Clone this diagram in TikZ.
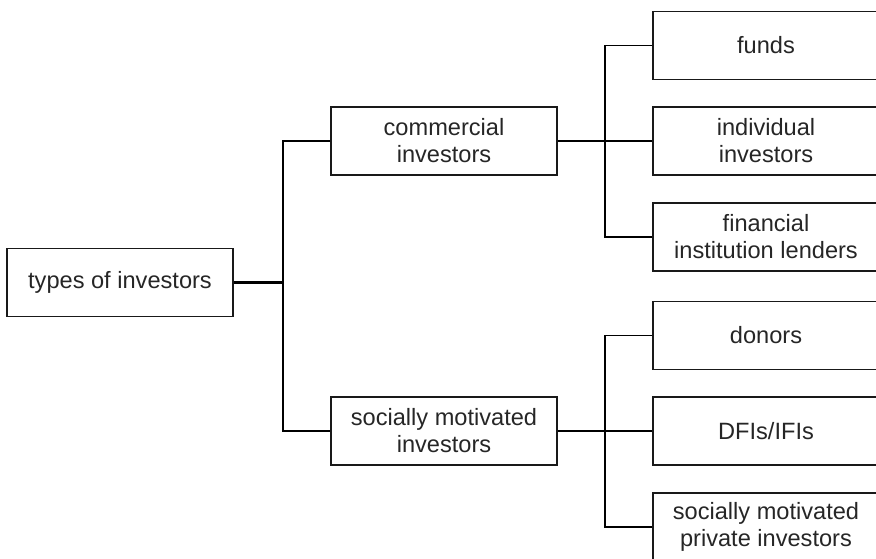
\documentclass[tikz,border=0pt]{standalone}
\usepackage{fontspec}
\setmainfont{Liberation Sans}
\begin{document}
\begin{tikzpicture}[x=0.75pt,y=-0.75pt,
  box/.style={draw=black!90, line width=1.1pt, rectangle, minimum width=169.5pt,
    minimum height=51pt, inner sep=0pt, align=center, text=black!85,
    font=\fontsize{17.7}{20.3}\selectfont},
  conn/.style={draw=black, line width=1.1pt},
  thickconn/.style={draw=black, line width=1.9pt}]
  \useasboundingbox (0,0) rectangle (876,559);
  % level 0
  \node[box] (root) at (120,282.5) {types of investors};
  % level 1
  \node[box] (comm) at (444,141) {commercial\\investors};
  \node[box] (soc)  at (444,431) {socially motivated\\investors};
  % level 2 (right column, running past the page edge)
  \node[box] (funds) at (766,45.5)  {funds};
  \node[box] (indiv) at (766,141)   {individual\\investors};
  \node[box] (fin)   at (766,237)   {financial\\institution lenders};
  \node[box] (donor) at (766,335.5) {donors};
  \node[box] (dfi)   at (766,431)   {DFIs/IFIs};
  \node[box] (priv)  at (766,527)   {socially motivated\\private investors};
  % junction points
  \coordinate (jroot) at (283,282.5);
  \coordinate (jcomm) at (605,141);
  \coordinate (jsoc)  at (605,431);
  % connectors
  \draw[thickconn] (root.east) -- (jroot);
  \draw[conn] (comm.west) -| (jroot) |- (soc.west);
  \draw[thickconn] (comm.east) -- (jcomm);
  \draw[conn] (funds.west) -| (jcomm) |- (fin.west);
  \draw[conn] (jcomm) -- (indiv.west);
  \draw[thickconn] (soc.east) -- (jsoc);
  \draw[conn] (donor.west) -| (jsoc) |- (priv.west);
  \draw[conn] (jsoc) -- (dfi.west);
\end{tikzpicture}
\end{document}
